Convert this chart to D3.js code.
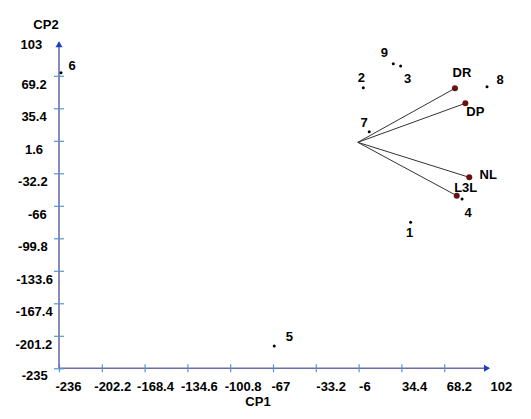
<!DOCTYPE html>
<html>
<head>
<meta charset="utf-8">
<script src="https://cdn.jsdelivr.net/npm/d3@7"></script>
<style>
  html, body { margin: 0; padding: 0; background: #ffffff; }
  svg { display: block; }
  text { font-family: "Liberation Sans", Arial, sans-serif; font-weight: bold; fill: #000; }
</style>
</head>
<body>
<svg id="chart" width="531" height="419"></svg>
<script>
// ---- data ----
const xTickValues = [-236, -202.2, -168.4, -134.6, -100.8, -67, -33.2, 0.6, 34.4, 68.2, 102];
const xTickLabels = ["-236", "-202.2", "-168.4", "-134.6", "-100.8", "-67", "-33.2", "-6", "34.4", "68.2", "102"];
const yTickValues = [-235, -201.2, -167.4, -133.6, -99.8, -66, -32.2, 1.6, 35.4, 69.2, 103];
const yTickLabels = ["-235", "-201.2", "-167.4", "-133.6", "-99.8", "-66", "-32.2", "1.6", "35.4", "69.2", "103"];

const obsLabels = ["1", "2", "3", "4", "5", "6", "7", "8", "9"];
const obsCP1 = [41.7, 4.3, 33.8, 82.3, -66.0, -234.4, 9.0, 102.0, 28.0];
const obsCP2 = [-83.2, 56.8, 79.4, -58.9, -211.8, 72.4, 11.1, 57.9, 81.8];

const varLabels = ["DR", "DP", "NL", "L3L"];
const varCP1 = [76.7, 84.9, 88.0, 78.1];
const varCP2 = [56.2, 40.6, -36.4, -55.5];

// ---- layout / style (kept separate from data) ----
const obsLabelOffset = [[-1, 15], [-2, -6], [7, 17], [6, 18], [15, -5], [11, -3], [-5, -5], [13, -3], [-9, -7]];
const varLabelOffset = [[7, -11], [10, 13], [19, 2], [9, -4]];
const xLabelDx = [-4, -8, -8, -7, -6, -2, 0, 0, 0, 2, 3];
const yLabelRight = [47.7, 52.3, 52.7, 53, 47.7, 46.7, 47.7, 43, 46.7, 46.7, 42.3];
const yLabelDy = [7, 8, 8, 8, 8, 8, 8, 8, 8, 8, 0.5];

const axisColor = "#6a6fa8";
const tickColor = "#5b93cc";
const arrowColor = "#1d3fc2";

const svg = d3.select("#chart");

const x = d3.scaleLinear().domain([-236, 102]).range([59, 487]);
const y = d3.scaleLinear().domain([-235, 103]).range([368.3, 43.3]);

const x0 = x(-236), y0 = y(-235);

// X axis
const xAxisG = svg.append("g")
  .attr("transform", `translate(0,${y0})`)
  .call(d3.axisBottom(x).tickValues(xTickValues)
    .tickFormat((d, i) => xTickLabels[i]).tickSizeOuter(0).tickSize(4));
xAxisG.select(".domain").attr("stroke", axisColor).attr("stroke-width", 1.6)
  .attr("d", `M${x0},0H${x(102) + 2}`);
xAxisG.selectAll(".tick line").attr("stroke", tickColor).attr("stroke-width", 1.2)
  .attr("y1", -4).attr("y2", 4)
  .style("display", (d, i) => i === xTickValues.length - 1 ? "none" : null);
xAxisG.selectAll(".tick text")
  .attr("text-anchor", "start")
  .attr("x", (d, i) => xLabelDx[i])
  .attr("y", 23)
  .attr("dy", 0)
  .style("font-size", "13px").style("font-family", "'Liberation Sans', Arial, sans-serif")
  .style("font-weight", "bold").attr("fill", "#000");

// Y axis
const yAxisG = svg.append("g")
  .attr("transform", `translate(${x0},0)`)
  .call(d3.axisLeft(y).tickValues(yTickValues)
    .tickFormat((d, i) => yTickLabels[i]).tickSizeOuter(0).tickSize(5));
yAxisG.select(".domain").attr("stroke", axisColor).attr("stroke-width", 1.6)
  .attr("d", `M0,${y0}V${y(103) - 1}`);
yAxisG.selectAll(".tick line").attr("stroke", tickColor).attr("stroke-width", 1.2)
  .attr("x1", -5).attr("x2", 5)
  .style("display", (d, i) => i === yTickValues.length - 1 ? "none" : null);
yAxisG.selectAll(".tick text")
  .attr("text-anchor", "end")
  .attr("x", (d, i) => yLabelRight[i] - x0)
  .attr("dy", 0)
  .attr("y", (d, i) => yLabelDy[i] + 4.5)
  .style("font-size", "13px").style("font-family", "'Liberation Sans', Arial, sans-serif")
  .style("font-weight", "bold").attr("fill", "#000");

// arrowheads
const xe = x(102) + 3, ye = y0;
svg.append("path").attr("fill", arrowColor)
  .attr("d", `M${xe},${ye}L${xe - 6},${ye - 3.5}L${xe - 6},${ye + 3.5}Z`);
const ya = y(103) - 2;
svg.append("path").attr("fill", arrowColor)
  .attr("d", `M${x0},${ya}L${x0 - 3.5},${ya + 6}L${x0 + 3.5},${ya + 6}Z`);

// axis titles
svg.append("text").attr("x", 46).attr("y", 29).attr("text-anchor", "middle")
  .style("font-size", "13px").text("CP2");
svg.append("text").attr("x", 258).attr("y", 406).attr("text-anchor", "middle")
  .style("font-size", "13px").text("CP1");

// variable vectors
const vars = varLabels.map((l, i) => ({ l, cx: varCP1[i], cy: varCP2[i], off: varLabelOffset[i] }));
svg.append("g").selectAll("line").data(vars).join("line")
  .attr("x1", x(0)).attr("y1", y(0))
  .attr("x2", d => x(d.cx)).attr("y2", d => y(d.cy))
  .attr("stroke", "#333").attr("stroke-width", 1);
svg.append("g").selectAll("circle").data(vars).join("circle")
  .attr("cx", d => x(d.cx)).attr("cy", d => y(d.cy)).attr("r", 3)
  .attr("fill", "#6b1010");
svg.append("g").selectAll("text").data(vars).join("text")
  .attr("x", d => x(d.cx) + d.off[0]).attr("y", d => y(d.cy) + d.off[1])
  .attr("text-anchor", "middle").style("font-size", "13px")
  .text(d => d.l);

// observations
const obs = obsLabels.map((l, i) => ({ l, cx: obsCP1[i], cy: obsCP2[i], off: obsLabelOffset[i] }));
svg.append("g").selectAll("circle").data(obs).join("circle")
  .attr("cx", d => x(d.cx)).attr("cy", d => y(d.cy)).attr("r", 1.5)
  .attr("fill", "#000");
svg.append("g").selectAll("text").data(obs).join("text")
  .attr("x", d => x(d.cx) + d.off[0]).attr("y", d => y(d.cy) + d.off[1])
  .attr("text-anchor", "middle").style("font-size", "13px")
  .text(d => d.l);
</script>
</body>
</html>
